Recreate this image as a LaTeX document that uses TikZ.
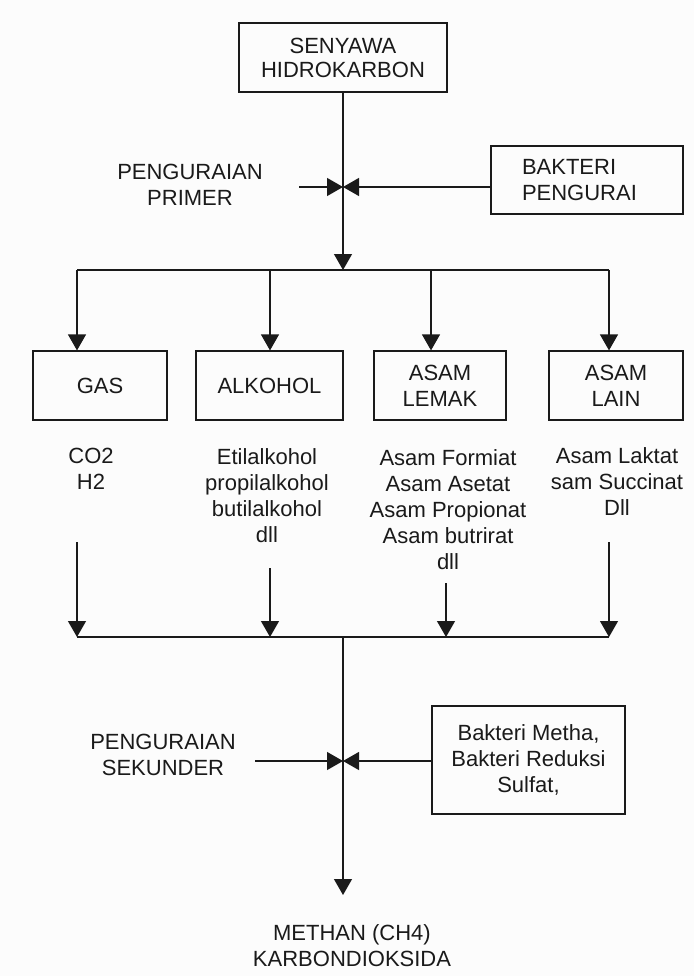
\documentclass[tikz,border=0pt]{standalone}
\usepackage{fontspec}
\setmainfont{Liberation Sans}
\usetikzlibrary{arrows.meta}
\definecolor{paper}{HTML}{FCFCFC}
\definecolor{ink}{HTML}{1A1A1A}
\begin{document}
\begin{tikzpicture}[x=1pt,y=-1pt,
  every node/.style={font=\fontsize{22pt}{26pt}\selectfont, text=ink, inner sep=0pt},
  box/.style={draw=ink, line width=1.2pt, align=center},
  txt/.style={align=center},
  flow/.style={draw=ink, line width=1.2pt},
  arr/.style={flow, -{Triangle[length=16pt,width=18pt]}}]
  \fill[paper] (0,0) rectangle (694,976);
  \useasboundingbox (0,0) rectangle (694,976);

  % source compound and primary decomposition
  \node[box, minimum width=208pt, minimum height=69pt,
        font=\fontsize{22pt}{24pt}\selectfont] (top) at (343,57.5) {SENYAWA\\HIDROKARBON};
  \node[box, minimum height=68pt, inner xsep=31pt, text width=130pt, align=left]
        (bak1) at (587,180) {BAKTERI\\PENGURAI};
  \node[txt] (prim) at (190,184.5) {PENGURAIAN\\PRIMER};

  \coordinate (j1) at (343,187);
  \coordinate (p1) at (299,187);
  \coordinate (hub1) at (343,270);
  \coordinate (b1) at (77,270);
  \coordinate (b2) at (270,270);
  \coordinate (b3) at (431,270);
  \coordinate (b4) at (609,270);

  \draw[flow] (top.south) -- (j1);
  \draw[arr] (j1) -- (hub1);
  \draw[arr] (p1) -- (j1);
  \draw[arr] (bak1.west |- j1) -- (j1);
  \draw[flow] (b1) -- (b4);

  % product groups
  \node[box, minimum width=134pt, minimum height=69pt] (gas) at (100,385.5) {GAS};
  \node[box, minimum width=147pt, minimum height=69pt] (alk) at (269.5,385.5) {ALKOHOL};
  \node[box, minimum width=132pt, minimum height=69pt] (lem) at (440,385.5) {ASAM\\LEMAK};
  \node[box, minimum width=134pt, minimum height=69pt] (lain) at (616,385.5) {ASAM\\LAIN};

  \draw[arr] (b1) -- (b1 |- gas.north);
  \draw[arr] (b2) -- (b2 |- alk.north);
  \draw[arr] (b3) -- (b3 |- lem.north);
  \draw[arr] (b4) -- (b4 |- lain.north);

  \node[txt] (l1) at (91,469) {CO2\\H2};
  \node[txt] (l2) at (267,496) {Etilalkohol\\propilalkohol\\butilalkohol\\dll};
  \node[txt] (l3) at (448,510) {Asam Formiat\\Asam Asetat\\Asam Propionat\\Asam butrirat\\dll};
  \node[txt] (l4) at (617,482) {Asam Laktat\\sam Succinat\\Dll};

  % secondary decomposition
  \coordinate (c1) at (77,542);
  \coordinate (c2) at (270,568);
  \coordinate (c3) at (446,583);
  \coordinate (c4) at (609,542);
  \coordinate (d1) at (77,637);
  \coordinate (d2) at (270,637);
  \coordinate (d3) at (446,637);
  \coordinate (d4) at (609,637);
  \coordinate (hub2) at (343,637);

  \draw[arr] (c1) -- (d1);
  \draw[arr] (c2) -- (d2);
  \draw[arr] (c3) -- (d3);
  \draw[arr] (c4) -- (d4);
  \draw[flow] (d1) -- (d4);

  \node[box, minimum width=193pt, minimum height=108pt] (bak2) at (528.5,760) {Bakteri Metha,\\Bakteri Reduksi\\Sulfat,};
  \node[txt] (sek) at (163,755) {PENGURAIAN\\SEKUNDER};

  \coordinate (j2) at (343,761);
  \coordinate (p2) at (255,761);
  \coordinate (endp) at (343,895);

  \draw[flow] (hub2) -- (j2);
  \draw[arr] (j2) -- (endp);
  \draw[arr] (p2) -- (j2);
  \draw[arr] (bak2.west |- j2) -- (j2);

  \node[txt] (fin) at (352,945.5) {METHAN (CH4)\\KARBONDIOKSIDA};
\end{tikzpicture}
\end{document}
